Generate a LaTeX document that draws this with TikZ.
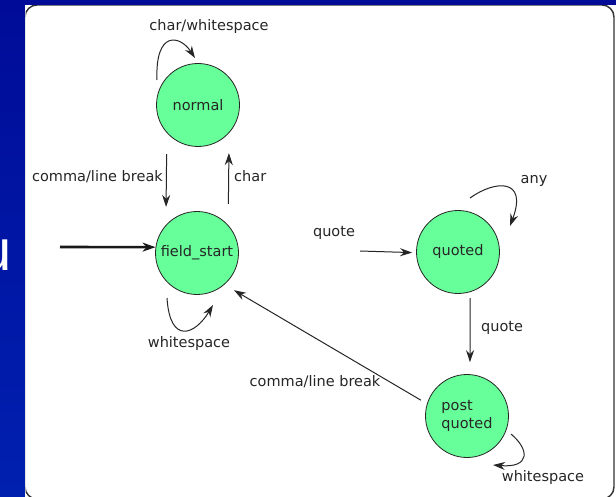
\documentclass[tikz,border=0pt]{standalone}
\usepackage{fontspec}
\setmainfont{DejaVu Sans}
\newfontfamily\slidefont{Liberation Sans}
\usepackage{tikz}
\usetikzlibrary{arrows.meta}
\definecolor{stategreen}{RGB}{102,255,153}
\definecolor{slideblue}{RGB}{0,12,152}
\definecolor{slideblue2}{RGB}{0,32,176}
\tikzstyle{state} = [circle,draw=black!85,fill=stategreen,line width=0.8pt,minimum size=83pt,inner sep=0pt,text=black!85]
\tikzstyle{trans} = [line width=1pt,draw=black!85,->,>={Stealth[length=12pt,width=8pt]}]
\tikzstyle{lbl} = [text=black!85,inner sep=1pt]

\begin{document}
\begin{tikzpicture}[x=1pt,y=-1pt,font=\fontsize{14.5}{18}\selectfont]
\useasboundingbox (0,0) rectangle (616,497);
% slide background
\shade[top color=slideblue,bottom color=slideblue2] (0,0) rectangle (616,497);
\fill[white] (25,5) rectangle (616,497);
\node[anchor=base east,inner sep=0pt,text=white,font=\slidefont\fontsize{58}{60}\selectfont] (letter) at (12,270) {u};
% frame of the figure
\begin{scope}
\clip (25.6,5.6) rectangle (616,497);
\draw[black!80,line width=1.4pt,rounded corners=12pt] (25,5) rectangle (614,499);
\end{scope}

% states
\node[state] (normal) at (198,105) {normal};
\node[state] (field) at (197,253) {field\_start};
\node[state] (quoted) at (458,252) {quoted};
\node[state,align=left] (post) at (467,416) {post\\quoted};
\coordinate (init) at (60,247);
\coordinate (qin) at (360,251);

% transitions
\draw[trans] ([shift={(-41,-25)}]normal.center) .. controls ([shift={(-43,-75)}]normal.center) and ([shift={(-18,-70)}]normal.center) .. ([shift={(-3,-47)}]normal.center);
\node[lbl] (l1) at (209,27) {char/whitespace};
\draw[trans,shorten <=21pt,shorten >=18pt] (normal.222) -- (field.138);
\node[lbl,anchor=east] (l2) at (164,177) {comma/line break};
\draw[trans,shorten <=21pt,shorten >=20pt] (field.42) -- (normal.318);
\node[lbl,anchor=west] (l3) at (233,176) {char};
\draw[line width=2.6pt,draw=black!90,->,>={Stealth[length=13pt,width=9pt]}] (init) -- (field.172);
\draw[trans] ([shift={(-30,45)}]field.center) .. controls ([shift={(-27,92)}]field.center) and ([shift={(-2,82)}]field.center) .. ([shift={(16,52)}]field.center);
\node[lbl] (l4) at (189,343) {whitespace};
\draw[trans,shorten >=4pt] (qin) -- (quoted.181);
\node[lbl] (l5) at (334,233) {quote};
\draw[trans] ([shift={(12,-54)}]quoted.center) .. controls ([shift={(37,-72)}]quoted.center) and ([shift={(70,-74)}]quoted.center) .. ([shift={(52,-26)}]quoted.center);
\node[lbl] (l6) at (534,181) {any};
\draw[trans,shorten <=6pt,shorten >=12pt] (quoted.287) -- (post.86);
\node[lbl,anchor=west] (l7) at (480,328) {quote};
\draw[trans,shorten <=7pt,shorten >=11pt] (post.163) -- (field.311);
\node[lbl] (l8) at (315,382) {comma/line break};
\draw[trans] ([shift={(44,18)}]post.center) .. controls ([shift={(63,34)}]post.center) and ([shift={(63,52)}]post.center) .. ([shift={(26,49)}]post.center);
\node[lbl] (l9) at (543,477) {whitespace};
\end{tikzpicture}
\end{document}
